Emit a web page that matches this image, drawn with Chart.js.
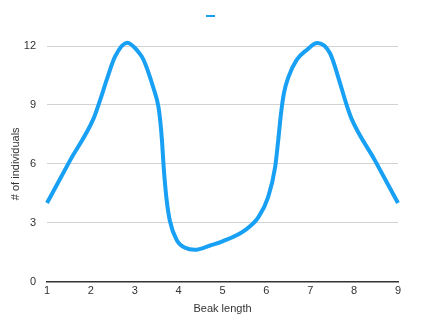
<!DOCTYPE html>
<html>
<head>
<meta charset="utf-8">
<script src="https://cdn.jsdelivr.net/npm/chart.js@4/dist/chart.umd.min.js"></script>
<style>
  html, body { margin: 0; padding: 0; background: #fff; }
  .chart { width: 440px; height: 323px; }
</style>
</head>
<body>
<div class="chart"><canvas id="beakChart"></canvas></div>
<script>
// points (beak length -> number of individuals)
const beakLength = [1, 1.52, 2.06, 2.21, 2.36, 2.55, 2.83, 3.08, 3.2, 3.42, 3.54, 3.58, 3.62, 3.66, 3.72, 3.8, 3.96, 4.15, 4.37, 4.72, 5, 5.5, 5.82, 6.04, 6.2, 6.27, 6.33, 6.4, 6.5, 6.69, 6.92, 7.16, 7.45, 7.68, 7.8, 7.94, 8.48, 9];
const individuals = [4, 6.15, 8.3, 9.24, 10.27, 11.46, 12.17, 11.71, 11.3, 9.9, 8.9, 8.2, 7.2, 5.8, 4.3, 3.1, 2.1, 1.72, 1.62, 1.84, 2.05, 2.6, 3.28, 4.3, 5.84, 7.2, 8.5, 9.6, 10.4, 11.29, 11.8, 12.15, 11.63, 10.1, 9.2, 8.3, 6.15, 4];
const xTicks = [1, 2, 3, 4, 5, 6, 7, 8, 9];
const yTicks = [0, 3, 6, 9, 12];

const blue = '#18a0f4';
const fontFamily = '"Liberation Sans", Arial, Helvetica, sans-serif';

// push the plot down a bit below the legend
const legendGap = {
  id: 'legendGap',
  beforeInit(chart) {
    const fit = chart.legend.fit;
    chart.legend.fit = function () {
      fit.bind(chart.legend)();
      this.height += 14;
    };
  }
};

const ctx = document.getElementById('beakChart').getContext('2d');
new Chart(ctx, {
  type: 'line',
  data: {
    datasets: [{
      label: '',
      data: beakLength.map((x, i) => ({ x: x, y: individuals[i] })),
      borderColor: blue,
      backgroundColor: blue,
      borderWidth: 4,
      pointRadius: 0,
      cubicInterpolationMode: 'monotone',
      clip: false
    }]
  },
  options: {
    responsive: true,
    maintainAspectRatio: false,
    animation: false,
    layout: {
      padding: { left: 3, right: 16, top: 0, bottom: 5 }
    },
    scales: {
      x: {
        type: 'linear',
        min: xTicks[0],
        max: xTicks[xTicks.length - 1],
        afterBuildTicks: (axis) => { axis.ticks = xTicks.map(v => ({ value: v })); },
        ticks: { padding: 3, color: '#333', font: { family: fontFamily, size: 11 } },
        grid: { display: false, drawTicks: false },
        border: { display: true, color: '#333', width: 1.5 },
        title: {
          display: true,
          text: 'Beak length',
          color: '#333',
          font: { family: fontFamily, size: 11 },
          padding: { top: 2, bottom: 2 }
        }
      },
      y: {
        min: yTicks[0],
        max: yTicks[yTicks.length - 1],
        afterBuildTicks: (axis) => { axis.ticks = yTicks.map(v => ({ value: v })); },
        afterFit: (axis) => { axis.width = 44; },
        ticks: { padding: 11, color: '#333', font: { family: fontFamily, size: 11 } },
        grid: { color: '#d2d2d2', lineWidth: 1, drawTicks: false },
        border: { display: false },
        title: {
          display: true,
          text: '# of individuals',
          color: '#333',
          font: { family: fontFamily, size: 11 },
          padding: { top: 6, bottom: 4 }
        }
      },
      // empty strip on the right so the plot ends where the original does
      yRight: {
        position: 'right',
        display: true,
        grid: { display: false, drawTicks: false },
        border: { display: false },
        ticks: { display: false },
        afterFit: (axis) => { axis.width = 26; }
      }
    },
    plugins: {
      legend: {
        display: true,
        labels: {
          boxWidth: 9,
          boxHeight: 2,
          font: { family: fontFamily, size: 12 },
          generateLabels: (chart) => Chart.defaults.plugins.legend.labels.generateLabels(chart)
            .map(item => ({ ...item, lineWidth: 0 }))
        }
      },
      tooltip: { enabled: false }
    }
  },
  plugins: [legendGap]
});
</script>
</body>
</html>
